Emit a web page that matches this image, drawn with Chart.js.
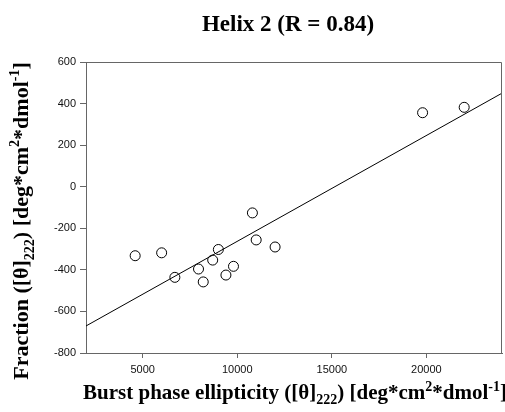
<!DOCTYPE html>
<html>
<head>
<meta charset="utf-8">
<script src="https://cdn.jsdelivr.net/npm/chart.js@4.4.1/dist/chart.umd.min.js"></script>
<style>
  body { margin: 0; background: #fff; }
  canvas { display: block; }
</style>
</head>
<body>
<canvas id="myChart" width="505" height="412"></canvas>
<script>
// data
const burstX = [4600, 6000, 6700, 7950, 8200, 8700, 9000, 9400, 9800, 10800, 11000, 12000, 19800, 22000];
const fractionY = [-332, -318, -436, -396, -458, -353, -302, -425, -383, -126, -256, -290, 356, 382];
const fitX = [2000, 24000];
const fitY = [-670, 450];
const xTicks = [5000, 10000, 15000, 20000];
const yTicks = [-800, -600, -400, -200, 0, 200, 400, 600];

const titleText = 'Helix 2 (R = 0.84)';
// [text, kind] kind: 0 normal, 'sub', 'sup'
const xTitle = [['Burst phase ellipticity ([θ]', 0], ['222', 'sub'], [') [deg*cm', 0], ['2', 'sup'], ['*dmol', 0], ['-1', 'sup'], [']', 0]];
const yTitle = [['Fraction ([θ]', 0], ['222', 'sub'], [') [deg*cm', 0], ['2', 'sup'], ['*dmol', 0], ['-1', 'sup'], [']', 0]];

const serif = '"Liberation Serif", "Times New Roman", serif';

function drawRich(ctx, segs, size, cx, cy, rot) {
  const small = Math.round(size * 0.65);
  const fontFor = (k) => `bold ${k ? small : size}px ${serif}`;
  let total = 0;
  segs.forEach(([t, k]) => {
    ctx.font = fontFor(k);
    total += ctx.measureText(t).width;
  });
  ctx.save();
  ctx.translate(cx, cy);
  if (rot) ctx.rotate(rot);
  ctx.fillStyle = '#000';
  ctx.textBaseline = 'alphabetic';
  ctx.textAlign = 'left';
  let x = -total / 2;
  segs.forEach(([t, k]) => {
    ctx.font = fontFor(k);
    const dy = k === 'sub' ? size * 0.25 : k === 'sup' ? -size * 0.4 : 0;
    ctx.fillText(t, x, dy);
    x += ctx.measureText(t).width;
  });
  ctx.restore();
}

const framePlugin = {
  id: 'frame',
  afterDraw(chart) {
    const { ctx, chartArea: a } = chart;
    ctx.save();
    ctx.strokeStyle = '#666';
    ctx.lineWidth = 1;
    ctx.beginPath();
    ctx.moveTo(Math.round(a.left) + 0.5, Math.round(a.top) + 0.5);
    ctx.lineTo(Math.round(a.right) - 0.5, Math.round(a.top) + 0.5);
    ctx.lineTo(Math.round(a.right) - 0.5, Math.round(a.bottom) + 0.5);
    ctx.stroke();
    ctx.restore();

    drawRich(ctx, [[titleText, 0]], 23, 288, 31, 0);
    drawRich(ctx, xTitle, 21, 295, 399, 0);
    drawRich(ctx, yTitle, 22, 28, 221, -Math.PI / 2);
  },
};

const points = burstX.map((x, i) => ({ x: x, y: fractionY[i] }));
const fitLine = fitX.map((x, i) => ({ x: x, y: fitY[i] }));

const config = {
  type: 'scatter',
  data: {
    datasets: [
      {
        data: points,
        pointStyle: 'circle',
        pointRadius: 5,
        pointHoverRadius: 5,
        borderColor: '#000',
        backgroundColor: 'rgba(0,0,0,0)',
        borderWidth: 1,
      },
      {
        type: 'line',
        data: fitLine,
        borderColor: '#000',
        borderWidth: 1,
        pointRadius: 0,
        fill: false,
      },
    ],
  },
  options: {
    responsive: false,
    devicePixelRatio: 1,
    animation: false,
    layout: { autoPadding: false, padding: { top: 62, right: 3, bottom: 0, left: 0 } },
    plugins: {
      legend: { display: false },
      title: { display: false },
      tooltip: { enabled: false },
    },
    scales: {
      x: {
        type: 'linear',
        min: 2000,
        max: 24000,
        afterFit: (s) => {
          s.height = 59;
          s.paddingLeft = 0;
          s.paddingRight = 0;
        },
        afterBuildTicks: (s) => {
          s.ticks = xTicks.map((v) => ({ value: v }));
        },
        grid: { drawOnChartArea: false, drawTicks: true, tickLength: 5, color: '#666' },
        border: { color: '#666', width: 1 },
        ticks: {
          padding: 5,
          color: '#111',
          font: { family: '"Liberation Sans", Arial, sans-serif', size: 11 },
          callback: (v) => String(v),
        },
      },
      y: {
        type: 'linear',
        min: -800,
        max: 600,
        afterFit: (s) => {
          s.width = 86;
          s.paddingTop = 0;
          s.paddingBottom = 0;
        },
        afterBuildTicks: (s) => {
          s.ticks = yTicks.map((v) => ({ value: v }));
        },
        grid: { drawOnChartArea: false, drawTicks: true, tickLength: 6, color: '#666' },
        border: { color: '#666', width: 1 },
        ticks: {
          padding: 4,
          color: '#111',
          font: { family: '"Liberation Sans", Arial, sans-serif', size: 11 },
          callback: (v) => String(v),
        },
      },
    },
  },
  plugins: [framePlugin],
};

const ctxChart = document.getElementById('myChart');
try {
  const chart = new Chart(ctxChart, config);
} catch (e) {
  // eslint-disable-next-line no-console
  console.log(e);
}
</script>
</body>
</html>
